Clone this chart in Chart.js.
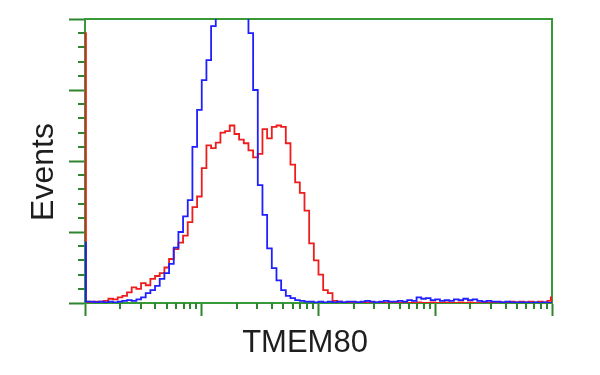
<!DOCTYPE html>
<html>
<head>
<meta charset="utf-8">
<script src="https://cdn.jsdelivr.net/npm/chart.js@4.4.0/dist/chart.umd.min.js"></script>
<style>
  html, body { margin: 0; padding: 0; background: #fff; }
</style>
</head>
<body>
<canvas id="histChart" width="600" height="375"></canvas>
<script>
// bin start, in decades of fluorescence (log10)
const channels = [
  0, 0.008, 0.04, 0.08, 0.12, 0.16, 0.2, 0.24, 0.28, 0.32, 0.36, 0.4, 0.44, 0.48, 0.52, 0.56, 0.6, 0.64, 0.68, 0.72,
  0.76, 0.8, 0.84, 0.88, 0.92, 0.96, 1.0, 1.04, 1.08, 1.12, 1.16, 1.2, 1.24, 1.28, 1.32, 1.36, 1.4, 1.44, 1.48, 1.52,
  1.56, 1.6, 1.64, 1.68, 1.72, 1.76, 1.8, 1.84, 1.88, 1.92, 1.96, 2.0, 2.04, 2.08, 2.12, 2.16, 2.2, 2.24, 2.28, 2.32,
  2.36, 2.4, 2.44, 2.48, 2.52, 2.56, 2.6, 2.64, 2.68, 2.72, 2.76, 2.8, 2.84, 2.88, 2.92, 2.96, 3.0, 3.04, 3.08, 3.12,
  3.16, 3.2, 3.24, 3.28, 3.32, 3.36, 3.4, 3.44, 3.48, 3.52, 3.56, 3.6, 3.64, 3.68, 3.72, 3.76, 3.8, 3.84, 3.88, 3.92,
  3.96, 3.99, 4.0
];

// blue: control
const controlCounts = [
  85, 2, 2, 1, 2, 1, 2, 1, 2, 3, 4, 3, 5, 8, 14, 18, 24, 34, 42, 55,
  78, 100, 122, 145, 220, 272, 314, 342, 390, 520, 520, 520, 520, 520, 520, 520, 380, 300, 166, 124,
  77, 49, 32, 18, 10, 7, 4, 3, 2, 2, 1, 2, 1, 2, 1, 2, 1, 2, 2, 1,
  2, 3, 2, 1, 2, 3, 2, 2, 3, 2, 4, 3, 8, 6, 7, 4, 5, 3, 4, 3,
  5, 4, 6, 4, 5, 3, 2, 3, 2, 2, 1, 2, 1, 1, 1, 1, 0, 1, 0, 1,
  0, 0, 0
];

// red: TMEM80
const tmem80Counts = [
  380, 2, 1, 2, 2, 3, 6, 5, 8, 10, 15, 22, 20, 28, 25, 34, 38, 42, 50, 62,
  76, 85, 95, 114, 135, 150, 190, 222, 218, 226, 240, 242, 250, 238, 230, 225, 215, 205, 210, 245,
  232, 248, 250, 248, 225, 195, 170, 155, 130, 84, 60, 40, 18, 14, 3, 2, 1, 1, 0, 1,
  0, 1, 0, 1, 0, 0, 1, 0, 0, 1, 0, 0, 1, 0, 0, 1, 0, 0, 1, 0,
  0, 1, 0, 1, 0, 0, 1, 0, 1, 0, 1, 0, 2, 1, 2, 1, 2, 1, 2, 1,
  3, 8, 0
];

const xMinorFactors = [2, 3, 4, 5, 6, 7, 8, 9];
const yMinorStep = 20;
const xTitle = 'TMEM80';
const yTitle = 'Events';

const GREEN = '#379a37';
const TICK = '#2e8530';

const toPoints = vals => channels.map((c, i) => ({ x: c, y: vals[i] }));

// minor ticks + axis captions
const histDecor = {
  id: 'histDecor',
  beforeDatasetsDraw(chart) {
    const { ctx, chartArea, scales: { x, y } } = chart;
    ctx.save();
    ctx.strokeStyle = TICK;
    ctx.lineWidth = 2;
    ctx.beginPath();
    for (let d = 0; d < 4; d++) {
      xMinorFactors.forEach(k => {
        const px = Math.round(x.getPixelForValue(d + Math.log10(k)));
        ctx.moveTo(px, chartArea.bottom);
        ctx.lineTo(px, chartArea.bottom + 6);
      });
    }
    for (let v = yMinorStep; v < y.max; v += yMinorStep) {
      if (v % 100 === 0) continue;
      const py = Math.round(y.getPixelForValue(v));
      ctx.moveTo(chartArea.left - 7, py);
      ctx.lineTo(chartArea.left, py);
    }
    ctx.stroke();

    ctx.fillStyle = '#1e1e1e';
    ctx.textAlign = 'center';
    ctx.textBaseline = 'alphabetic';
    ctx.font = '31px "Liberation Sans", Arial, sans-serif';
    ctx.fillText(xTitle, 305, 352);
    ctx.translate(53, 172);
    ctx.rotate(-Math.PI / 2);
    ctx.font = '32px "Liberation Sans", Arial, sans-serif';
    ctx.fillText(yTitle, 0, 0);
    ctx.restore();
  }
};

const ctx = document.getElementById('histChart');

new Chart(ctx, {
  type: 'line',
  data: {
    datasets: [
      {
        label: 'Control',
        data: toPoints(controlCounts),
        borderColor: '#1f1fff',
        borderWidth: 1.8,
        pointRadius: 0,
        stepped: true,
        fill: false
      },
      {
        label: 'TMEM80',
        data: toPoints(tmem80Counts),
        borderColor: '#ee1c1c',
        borderWidth: 1.8,
        pointRadius: 0,
        stepped: true,
        fill: false
      }
    ]
  },
  options: {
    responsive: false,
    animation: false,
    layout: { padding: { left: 69, right: 48, top: 19, bottom: 59 } },
    scales: {
      x: {
        type: 'linear',
        position: 'bottom',
        min: 0,
        max: 4,
        ticks: { display: false, stepSize: 1 },
        grid: { drawOnChartArea: false, drawTicks: true, tickLength: 13, tickColor: TICK, tickWidth: 2 },
        border: { color: GREEN, width: 2 }
      },
      y: {
        type: 'linear',
        min: 0,
        max: 400,
        ticks: { display: false, stepSize: 100 },
        grid: { drawOnChartArea: false, drawTicks: true, tickLength: 16, tickColor: TICK, tickWidth: 2 },
        border: { color: GREEN, width: 2 }
      },
      xTop: {
        type: 'linear',
        position: 'top',
        min: 0,
        max: 4,
        ticks: { display: false },
        grid: { display: false, drawTicks: false },
        border: { color: GREEN, width: 2 }
      },
      yRight: {
        type: 'linear',
        position: 'right',
        min: 0,
        max: 400,
        ticks: { display: false },
        grid: { display: false, drawTicks: false },
        border: { color: GREEN, width: 2 }
      }
    },
    plugins: {
      legend: { display: false },
      tooltip: { enabled: false }
    }
  },
  plugins: [histDecor]
});
</script>
</body>
</html>
